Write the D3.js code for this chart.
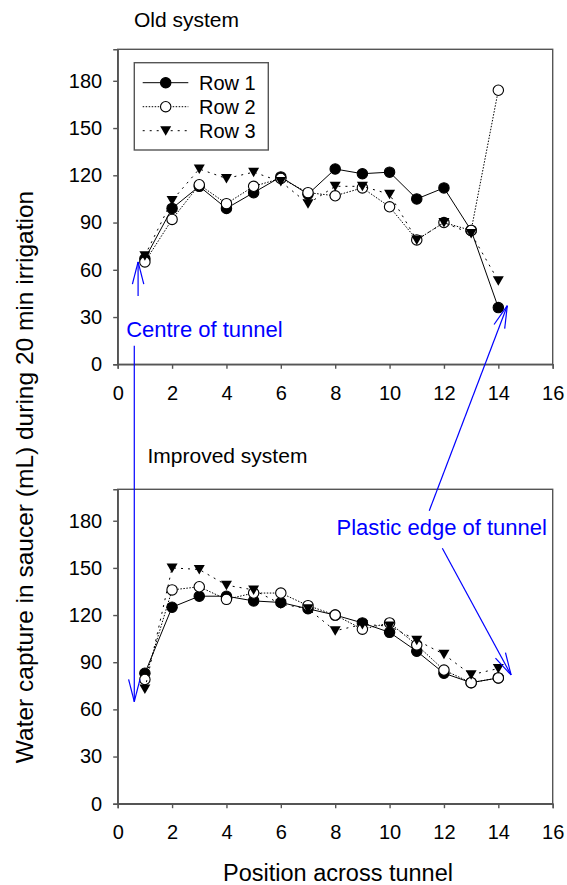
<!DOCTYPE html>
<html>
<head>
<meta charset="utf-8">
<script src="https://cdn.jsdelivr.net/npm/d3@7"></script>
<style>
  body { margin: 0; background: #fff; }
  svg text { font-family: "Liberation Sans", Arial, sans-serif; }
</style>
</head>
<body>
<div id="container"></div>
<script>

var positions = [1, 2, 3, 4, 5, 6, 7, 8, 9, 10, 11, 12, 13, 14];

var oldRow1 = [67, 99, 113, 99, 109, 119, 108, 124, 121, 122, 105, 112, 85, 36];
var oldRow2 = [65, 92, 114, 102, 113, 118, 109, 107, 112, 100, 79, 90, 85, 174];
var oldRow3 = [69, 104, 124, 118, 122, 116, 102, 113, 113, 108, 79, 90, 83, 53];

var newRow1 = [83, 125, 132, 132, 129, 128, 124, 120, 115, 109, 97, 83, 77, 80];
var newRow2 = [79, 136, 138, 130, 134, 134, 126, 120, 111, 115, 101, 85, 77, 80];
var newRow3 = [73, 150, 149, 139, 136, 127, 124, 110, 114, 113, 104, 95, 82, 86];

var xTicks = [0, 2, 4, 6, 8, 10, 12, 14, 16];
var yTicks = [0, 30, 60, 90, 120, 150, 180];

var seriesNames = ["Row 1", "Row 2", "Row 3"];

var W = 567, H = 885;
var svg = d3.select("#container").append("svg")
    .attr("width", W).attr("height", H);

var x = d3.scaleLinear().domain([0, 16]).range([117.7, 552.7]);
var yTop = d3.scaleLinear().domain([0, 200]).range([364.3, 49.3]);
var yBot = d3.scaleLinear().domain([0, 200]).range([803.7, 489.3]);

var dashes = [null, "1.5,1.5", "2,5"];

function marker(sel, i){
  if(i == 2){
    sel.append("path").attr("d", "M-5.5,-4.5L5.5,-4.5L0,5Z").attr("fill", "#000");
  } else {
    sel.append("circle").attr("r", 5.2)
      .attr("fill", i == 0 ? "#000" : "#fff")
      .attr("stroke", "#000").attr("stroke-width", 1.1);
  }
}

function drawPanel(y, rows, title){
  var g = svg.append("g");

  // frame
  g.append("rect")
      .attr("x", x(0)).attr("y", y(200))
      .attr("width", x(16) - x(0)).attr("height", y(0) - y(200))
      .attr("fill", "none").attr("stroke", "#555").attr("stroke-width", 1.4);

  var xa = g.append("g").attr("transform", "translate(0," + y(0) + ")")
      .call(d3.axisBottom(x).tickValues(xTicks).tickSize(4.5).tickPadding(17));
  var ya = g.append("g").attr("transform", "translate(" + x(0) + ",0)")
      .call(d3.axisLeft(y).tickValues(yTicks).tickSize(4.5).tickPadding(11));
  [xa, ya].forEach(function(a){
    a.select(".domain").attr("stroke", "#555").attr("stroke-width", 1.4);
    a.selectAll(".tick line").attr("stroke", "#555").attr("stroke-width", 1.4);
    a.selectAll(".tick text").attr("font-size", 20).attr("fill", "#000")
      .attr("font-family", "Liberation Sans, Arial, sans-serif");
  });

  var line = d3.line()
      .x(function(d, i){ return x(positions[i]); })
      .y(function(d){ return y(d); });

  rows.forEach(function(vals, s){
    g.append("path").datum(vals)
        .attr("d", line)
        .attr("fill", "none").attr("stroke", "#000").attr("stroke-width", 1)
        .attr("stroke-dasharray", dashes[s]);
    g.selectAll(".pt" + s).data(vals).enter().append("g")
        .attr("class", "pt" + s)
        .attr("transform", function(d, i){ return "translate(" + x(positions[i]) + "," + y(d) + ")"; })
        .each(function(){ marker(d3.select(this), s); });
  });

  g.append("text").text(title.text)
      .attr("x", title.x).attr("y", title.y)
      .attr("font-size", 21);
}

drawPanel(yTop, [oldRow1, oldRow2, oldRow3], {text: "Old system", x: 134, y: 26.5});
drawPanel(yBot, [newRow1, newRow2, newRow3], {text: "Improved system", x: 147.5, y: 463});

// legend
var leg = svg.append("g");
leg.append("rect").attr("x", 134.3).attr("y", 62.7).attr("width", 134).attr("height", 87.3)
    .attr("fill", "#fff").attr("stroke", "#555").attr("stroke-width", 1.4);
seriesNames.forEach(function(name, i){
  var ly = 82.7 + i * 24;
  leg.append("line").attr("x1", 142.7).attr("x2", 188.3).attr("y1", ly).attr("y2", ly)
      .attr("stroke", "#000").attr("stroke-width", 1).attr("stroke-dasharray", dashes[i]);
  var m = leg.append("g").attr("transform", "translate(165.7," + ly + ")");
  marker(m, i);
  leg.append("text").text(name).attr("x", 199).attr("y", ly + 7.5).attr("font-size", 20);
});

// axis titles
svg.append("text").text("Position across tunnel")
    .attr("x", 338).attr("y", 880.5).attr("text-anchor", "middle").attr("font-size", 23.5);
svg.append("text").text("Water capture in saucer (mL) during 20 min irrigation")
    .attr("transform", "translate(32.5,477) rotate(-90)")
    .attr("text-anchor", "middle").attr("font-size", 24.5);

// blue annotations
var blue = "#0000ff";
function arrow(x1, y1, x2, y2){
  svg.append("line").attr("x1", x1).attr("y1", y1).attr("x2", x2).attr("y2", y2)
      .attr("stroke", blue).attr("stroke-width", 1.2);
  var a = Math.atan2(y1 - y2, x1 - x2), len = 23, spread = 0.25;
  [a - spread, a + spread].forEach(function(b){
    svg.append("line").attr("x1", x2).attr("y1", y2)
        .attr("x2", x2 + len * Math.cos(b)).attr("y2", y2 + len * Math.sin(b))
        .attr("stroke", blue).attr("stroke-width", 1.2);
  });
}

arrow(x(0.75), yTop(43.4), x(0.75), yTop(65));
arrow(x(0.61), yTop(11.8), x(0.61), yBot(64.9));
arrow(x(11.46), yBot(186.4), x(14.33), yTop(37.2));
arrow(x(11.94), yBot(162.5), x(14.47), yBot(81.9));

svg.append("text").text("Centre of tunnel")
    .attr("x", x(0.31)).attr("y", yTop(17.5)).attr("fill", blue).attr("font-size", 22);
svg.append("text").text("Plastic edge of tunnel")
    .attr("x", x(8.05)).attr("y", yBot(170.9)).attr("fill", blue).attr("font-size", 22);

</script>
</body>
</html>
